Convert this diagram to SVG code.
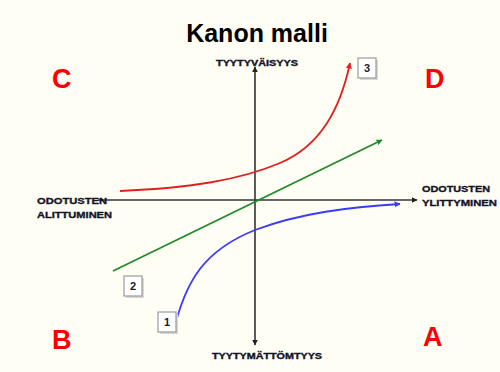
<svg xmlns="http://www.w3.org/2000/svg" width="500" height="372" viewBox="0 0 500 372">
  <defs>
    <style>
      .lbl{font-family:"Liberation Sans",Arial,sans-serif;font-weight:bold;fill:#141428;stroke:#141428;stroke-width:0.35;}
      .quad{font-family:"Liberation Sans",Arial,sans-serif;font-weight:bold;font-size:27px;fill:#ff0000;}
      .box{fill:#ffffff;stroke:#9a9a9a;stroke-width:1.2;}
      .shadow{fill:#d8d8d8;}
      .num{font-family:"Liberation Sans",Arial,sans-serif;font-weight:bold;font-size:11px;fill:#1a1a2e;text-anchor:middle;}
      .axis{stroke:#333333;stroke-width:1.6;fill:none;}
      .curve{fill:none;stroke-width:1.8;}
    </style>
    <marker id="ak" viewBox="0 0 10 10" refX="9" refY="5" markerWidth="6" markerHeight="6" markerUnits="userSpaceOnUse" orient="auto-start-reverse">
      <path d="M0,0 L10,5 L0,10 z" fill="#222"/>
    </marker>
    <marker id="ar" viewBox="0 0 10 10" refX="9" refY="5" markerWidth="6" markerHeight="6" markerUnits="userSpaceOnUse" orient="auto">
      <path d="M0,0 L10,5 L0,10 z" fill="#e02020"/>
    </marker>
    <marker id="ag" viewBox="0 0 10 10" refX="9" refY="5" markerWidth="6" markerHeight="6" markerUnits="userSpaceOnUse" orient="auto">
      <path d="M0,0 L10,5 L0,10 z" fill="#1f8a2a"/>
    </marker>
    <marker id="ab" viewBox="0 0 10 10" refX="9" refY="5" markerWidth="6" markerHeight="6" markerUnits="userSpaceOnUse" orient="auto">
      <path d="M0,0 L10,5 L0,10 z" fill="#3a3aff"/>
    </marker>
  </defs>
  <rect x="0" y="0" width="500" height="372" fill="#fffef5"/>

  <g id="title">
    <text x="257" y="42" font-family="Liberation Sans, Arial, sans-serif" font-weight="bold" font-size="25" text-anchor="middle" fill="#000">Kanon malli</text>
  </g>

  <g id="connectors">
    <line id="axis-y" class="axis" x1="255" y1="345" x2="255" y2="67" marker-start="url(#ak)" marker-end="url(#ak)"/>
    <line id="axis-x" class="axis" x1="98" y1="200" x2="417" y2="200" marker-end="url(#ak)"/>
    <path id="curve-3" class="curve" stroke="#e02020" d="M120,191 C190,188 240,180 280,163 C320,146 340,110 350,63" marker-end="url(#ar)"/>
    <path id="line-2" class="curve" stroke="#1f8a2a" d="M113,271 L382,140" marker-end="url(#ag)"/>
    <path id="curve-1" class="curve" stroke="#3a3aff" d="M173,334 C185,280 205,250 255,230 C300,213 350,207 400,204" marker-end="url(#ab)"/>
  </g>

  <g id="axis-labels">
    <text class="lbl" x="216" y="66" font-size="8.5" textLength="82" lengthAdjust="spacingAndGlyphs">TYYTYVÄISYYS</text>
    <text class="lbl" x="212" y="359" font-size="8.5" textLength="110" lengthAdjust="spacingAndGlyphs">TYYTYMÄTTÖMTYYS</text>
    <text class="lbl" x="37" y="204" font-size="9.5" textLength="70" lengthAdjust="spacingAndGlyphs">ODOTUSTEN</text>
    <text class="lbl" x="37" y="218" font-size="9.5" textLength="75" lengthAdjust="spacingAndGlyphs">ALITTUMINEN</text>
    <text class="lbl" x="422" y="192" font-size="9.5" textLength="68" lengthAdjust="spacingAndGlyphs">ODOTUSTEN</text>
    <text class="lbl" x="422" y="206" font-size="9.5" textLength="75" lengthAdjust="spacingAndGlyphs">YLITTYMINEN</text>
  </g>

  <g id="quadrant-C"><text class="quad" x="52" y="88">C</text></g>
  <g id="quadrant-D"><text class="quad" x="425" y="88">D</text></g>
  <g id="quadrant-B"><text class="quad" x="52" y="349">B</text></g>
  <g id="quadrant-A"><text class="quad" x="423" y="346">A</text></g>

  <g id="label-1">
    <rect class="shadow" x="160" y="314" width="18" height="20"/>
    <rect class="box" x="158" y="312" width="18" height="20"/>
    <text class="num" x="167" y="326">1</text>
  </g>
  <g id="label-2">
    <rect class="shadow" x="126" y="278" width="18" height="20"/>
    <rect class="box" x="124" y="276" width="18" height="20"/>
    <text class="num" x="133" y="290">2</text>
  </g>
  <g id="label-3">
    <rect class="shadow" x="360" y="60" width="18" height="20"/>
    <rect class="box" x="358" y="58" width="18" height="20"/>
    <text class="num" x="367" y="72">3</text>
  </g>
</svg>
